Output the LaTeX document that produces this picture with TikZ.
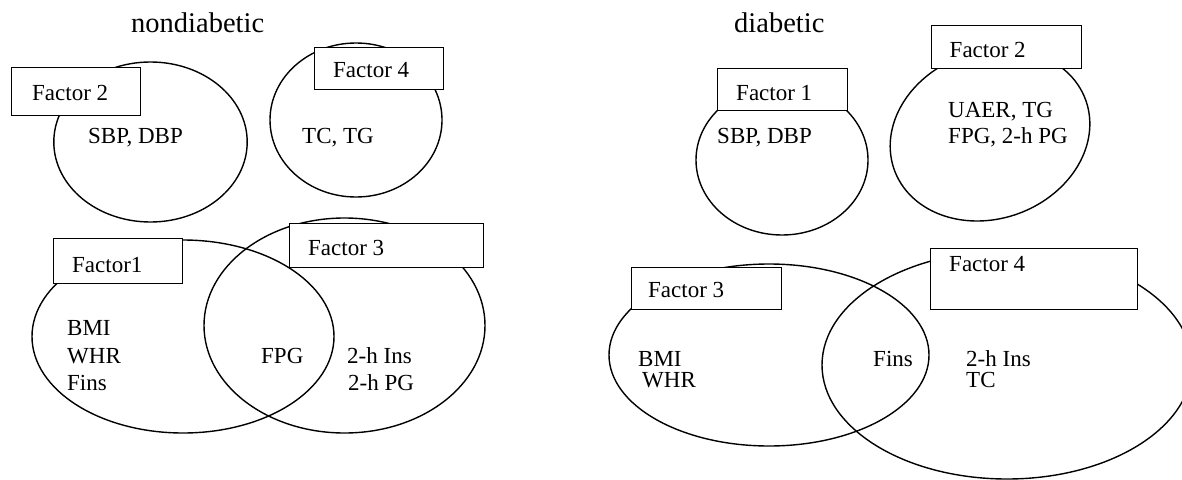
\documentclass[tikz,border=0pt]{standalone}
\usepackage{fontspec}
\setmainfont{Liberation Serif}
\begin{document}
\begin{tikzpicture}[x=1pt,y=-1pt,
  lbl/.style={font=\fontsize{23}{27}\selectfont, inner sep=0pt, anchor=base west},
  ttl/.style={font=\fontsize{28.5}{33}\selectfont, inner sep=0pt, anchor=base west},
  ring/.style={line width=1.4pt},
  fbox/.style={draw, fill=white, line width=1.1pt, inner sep=0pt, anchor=north west}]
\useasboundingbox (0,0) rectangle (1182,479);
% ---------- nondiabetic ----------
\node[ttl] (t1) at (131,32) {nondiabetic};
\draw[ring] (150.5,142) ellipse [x radius=96.7pt, y radius=80pt];
\draw[ring] (356,120) ellipse [x radius=86pt, y radius=77pt];
\draw[ring] (183,336.5) ellipse [x radius=151pt, y radius=96.5pt];
\draw[ring] (344.5,325.5) ellipse [x radius=140.5pt, y radius=107.5pt];
\node[fbox, minimum width=129pt, minimum height=48pt] (b2) at (11,67) {};
\node[fbox, minimum width=129.5pt, minimum height=42pt] (b4) at (313.5,47) {};
\node[fbox, minimum width=129pt, minimum height=45pt] (b1) at (53,238) {};
\node[fbox, minimum width=194pt, minimum height=44pt] (b3) at (289,223) {};
\node[lbl] (f2) at (32,100) {Factor 2};
\node[lbl] (sd) at (88,143) {SBP, DBP};
\node[lbl] (f4) at (333,77) {Factor 4};
\node[lbl] (tt) at (302,143) {TC, TG};
\node[lbl] (f1) at (72,272) {Factor1};
\node[lbl] (f3) at (308,255) {Factor 3};
\node[lbl] (bmi) at (67,335) {BMI};
\node[lbl] (whr) at (67,363) {WHR};
\node[lbl] (fins) at (67,390) {Fins};
\node[lbl] (fpg) at (261,363) {FPG};
\node[lbl] (ins) at (347,363) {2-h Ins};
\node[lbl] (pg) at (348,390) {2-h PG};
% ---------- diabetic ----------
\node[ttl] (t2) at (734,32) {diabetic};
\draw[ring] (782,160) ellipse [x radius=86pt, y radius=75pt];
\draw[ring] plot[domain=0:360, samples=120, smooth]
   ({990 + 99*cos(\x) - 12.9*sin(\x)}, {135 + 86*sin(\x)}) -- cycle;
\draw[ring] (769,355) ellipse [x radius=160pt, y radius=91pt];
\draw[ring] (1007,365) ellipse [x radius=185pt, y radius=114pt];
\node[fbox, minimum width=129.5pt, minimum height=42pt] (d1) at (717,68) {};
\node[fbox, minimum width=150pt, minimum height=43pt] (d2) at (931,25) {};
\node[fbox, minimum width=150pt, minimum height=42pt] (d3) at (631,267) {};
\node[fbox, minimum width=207pt, minimum height=61pt] (d4) at (930,248) {};
\node[lbl] (g1) at (736,100) {Factor 1};
\node[lbl] (gsd) at (717,143) {SBP, DBP};
\node[lbl] (g2) at (949.5,57) {Factor 2};
\node[lbl] (gua) at (948,117) {UAER, TG};
\node[lbl] (gfp) at (948,143) {FPG, 2-h PG};
\node[lbl] (g3) at (648,297) {Factor 3};
\node[lbl] (g4) at (949,271) {Factor 4};
\node[lbl] (gbmi) at (638,366) {BMI};
\node[lbl] (gwhr) at (642,387) {WHR};
\node[lbl] (gfins) at (873,366) {Fins};
\node[lbl] (gins) at (966,366) {2-h Ins};
\node[lbl] (gtc) at (966,387) {TC};
\end{tikzpicture}
\end{document}
